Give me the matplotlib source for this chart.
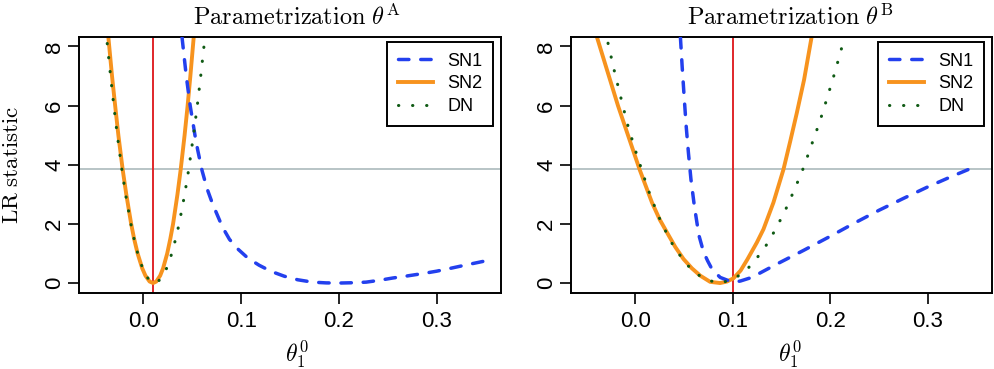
import numpy as np
import matplotlib
matplotlib.use("Agg")
from matplotlib import pyplot as plt

plt.rcParams['font.family'] = ['Liberation Sans', 'DejaVu Sans']
plt.rcParams['mathtext.fontset'] = 'cm'

# values, panel A (theta^A)
a_sn1_x = [0.0395, 0.0438, 0.0478, 0.0527, 0.0555, 0.0600, 0.0650, 0.0707, 0.0809, 0.0880,
           0.0963, 0.1070, 0.1185, 0.1310, 0.1442, 0.1580, 0.1731, 0.1870, 0.2005, 0.2140,
           0.2279, 0.2410, 0.2552, 0.2700, 0.2858, 0.3000, 0.3132, 0.3300, 0.3474]
a_sn1_y = [8.3, 7.0, 6.0, 5.0, 4.5, 3.80, 3.20, 2.68, 1.89, 1.48,
           1.16, 0.84, 0.60, 0.39, 0.23, 0.11, 0.03, 0.005, 0.0, 0.01,
           0.03, 0.09, 0.17, 0.24, 0.32, 0.40, 0.49, 0.61, 0.73]
a_sn2_x = [-0.0359, -0.0322, -0.0290, -0.0257, -0.0213, -0.0176, -0.0126, -0.0096, -0.0060,
           -0.0013, 0.0020, 0.0063, 0.0099, 0.0131, 0.0171, 0.0201, 0.0243, 0.0275, 0.0303,
           0.0348, 0.0381, 0.0421, 0.0452, 0.0480, 0.0514]
a_sn2_y = [8.3, 7.0, 6.0, 5.0, 3.84, 3.0, 2.0, 1.5, 1.0,
           0.5, 0.25, 0.05, 0.0, 0.05, 0.25, 0.5, 1.0, 1.5, 2.0,
           3.0, 3.84, 5.0, 6.0, 7.0, 8.3]
a_dn_x = [-0.0371, -0.0337, -0.0304, -0.0268, -0.0221, -0.0183, -0.0129, -0.0097, -0.0059,
          -0.0009, 0.0026, 0.0072, 0.0110, 0.0150, 0.0200, 0.0237, 0.0290, 0.0330, 0.0365,
          0.0422, 0.0463, 0.0512, 0.0551, 0.0586, 0.0629]
a_dn_y = [8.1, 7.0, 6.0, 5.0, 3.84, 3.0, 2.0, 1.5, 1.0,
          0.5, 0.25, 0.05, 0.0, 0.05, 0.25, 0.5, 1.0, 1.5, 2.0,
          3.0, 3.84, 5.0, 6.0, 7.0, 8.3]
a_true = 0.01

# panel B (theta^B)
b_sn1_x = [0.0463, 0.0481, 0.0501, 0.0522, 0.0545, 0.0571, 0.0606, 0.0652, 0.0700, 0.0742,
           0.0790, 0.0871, 0.0973, 0.1020, 0.1080, 0.1195, 0.1320, 0.1451, 0.1724, 0.2000,
           0.2250, 0.2500, 0.2750, 0.3000, 0.3250, 0.3520]
b_sn1_y = [8.3, 7.3, 6.3, 5.3, 4.4, 3.5, 2.6, 1.62, 1.05, 0.75,
           0.45, 0.19, 0.06, 0.03, 0.07, 0.19, 0.41, 0.64, 1.10, 1.58,
           2.03, 2.46, 2.86, 3.25, 3.61, 3.98]
b_sn2_x = [-0.0396, -0.0290, -0.0178, -0.0065, 0.0044, 0.0171, 0.0250, 0.0325, 0.0410,
           0.0495, 0.0580, 0.0666, 0.0768, 0.0870, 0.0940, 0.1007, 0.1080, 0.1150, 0.1247,
           0.1315, 0.1417, 0.1520, 0.1590, 0.1657, 0.1732, 0.1810]
b_sn2_y = [8.34, 7.2, 6.0, 4.9, 3.84, 2.72, 2.15, 1.71, 1.22,
           0.81, 0.50, 0.25, 0.04, 0.0, 0.05, 0.16, 0.42, 0.80, 1.37,
           1.82, 2.72, 3.84, 4.8, 5.75, 6.88, 8.34]
b_dn_x = [-0.0280, -0.0218, -0.0150, -0.0082, 0.0, 0.0044, 0.0130, 0.0232, 0.0355, 0.0430,
          0.0516, 0.0615, 0.0734, 0.0871, 0.1000, 0.1127, 0.1219, 0.1308, 0.1383, 0.1451,
          0.1520, 0.1578, 0.1633, 0.1691, 0.1742, 0.1786, 0.1834, 0.1882, 0.1926, 0.1967,
          0.2008, 0.2049, 0.2087, 0.2124]
b_dn_y = [8.11, 7.21, 6.29, 5.39, 4.49, 4.05, 3.17, 2.30, 1.45, 1.07,
          0.67, 0.34, 0.10, 0.0, 0.12, 0.39, 0.73, 1.10, 1.48, 1.90,
          2.33, 2.74, 3.17, 3.61, 4.04, 4.47, 4.91, 5.36, 5.80, 6.25,
          6.69, 7.14, 7.59, 8.03]
b_true = 0.1

crit = 3.84
xticks = [0.0, 0.1, 0.2, 0.3]
xticklabels = ['0.0', '0.1', '0.2', '0.3']
yticks = [0, 2, 4, 6, 8]

c_sn1 = '#2340ee'
c_sn2 = '#f7931e'
c_dn = '#0f5a14'

W, H = 994, 369
fig = plt.figure(figsize=(W / 100, H / 100), dpi=100)
axA = fig.add_axes([79 / W, 1 - 292.5 / H, 422 / W, 255.5 / H])
axB = fig.add_axes([571 / W, 1 - 292.5 / H, 421 / W, 255.5 / H])

panels = [
    (axA, a_sn1_x, a_sn1_y, a_sn2_x, a_sn2_y, a_dn_x, a_dn_y, a_true, 'A', 297),
    (axB, b_sn1_x, b_sn1_y, b_sn2_x, b_sn2_y, b_dn_x, b_dn_y, b_true, 'B', 790),
]

for ax, s1x, s1y, s2x, s2y, dx, dy, tv, lab, xc in panels:
    ax.axhline(crit, color='#b8c4c6', lw=1.4, zorder=1)
    ax.axvline(tv, color='#e0262a', lw=1.4, zorder=1)
    ax.plot(s1x, s1y, color=c_sn1, lw=2.5, dashes=(3.0, 3.4), dash_capstyle='round',
            label='SN1', zorder=3)
    ax.plot(s2x, s2y, color=c_sn2, lw=2.8, label='SN2', zorder=2)
    ax.plot(dx, dy, color=c_dn, lw=2.2, linestyle=(0, (0.1, 4.5)),
            dash_capstyle='round', label='DN', zorder=4)
    ax.set_xlim(-0.066, 0.366)
    ax.set_ylim(-0.32, 8.32)
    ax.set_xticks(xticks)
    ax.set_xticklabels(xticklabels, fontsize=16)
    ax.set_yticks(yticks)
    ax.set_yticklabels([str(v) for v in yticks], fontsize=16, rotation=90, va='center')
    ax.tick_params(direction='out', length=8, width=1.2)
    ax.tick_params(axis='x', pad=5)
    ax.tick_params(axis='y', pad=2)
    for sp in ax.spines.values():
        sp.set_linewidth(1.4)
    fig.text(xc / W, 1 - 17 / H, r'$\mathrm{Parametrization}\ \theta^{\mathrm{%s}}$' % lab,
             fontsize=17.5, ha='center', va='center')
    fig.text(xc / W, 1 - 354 / H, r'$\theta_1^0$', fontsize=17, ha='center', va='center')
    leg = ax.legend(loc='upper right', bbox_to_anchor=(0.982, 0.981), borderaxespad=0,
                    fontsize=13, frameon=True, fancybox=False, edgecolor='black',
                    framealpha=1, handlelength=1.95, handletextpad=0.8,
                    borderpad=0.6, labelspacing=0.32)
    leg.get_frame().set_linewidth(1.4)

fig.text(12 / W, 1 - 164.5 / H, r'$\mathrm{LR\ statistic}$', fontsize=16.5,
         rotation=90, ha='center', va='center')

fig.savefig('out.png', dpi=100)
plt.close(fig)
